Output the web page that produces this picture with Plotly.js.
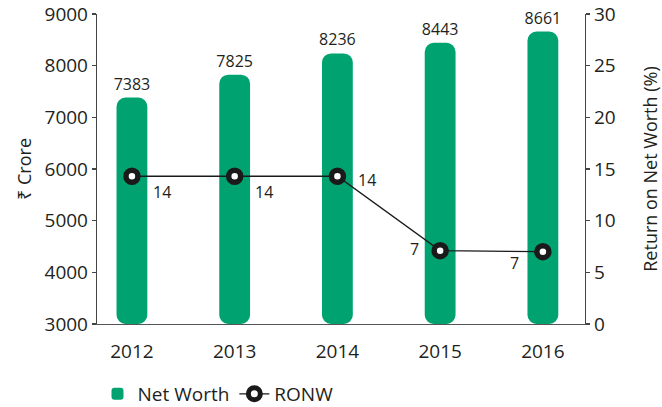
<!DOCTYPE html>
<html>
<head>
<meta charset="utf-8">
<script src="https://cdn.plot.ly/plotly-3.0.1.min.js"></script>
<style>html,body{margin:0;padding:0;background:#fff;}#chart{width:662px;height:407px;}</style>
</head>
<body>
<div id="chart"></div>
<script>
const years = ['2012', '2013', '2014', '2015', '2016'];
const netWorth = [7383, 7825, 8236, 8443, 8661];
const ronw = [14.3, 14.3, 14.3, 7.1, 7.0];
const ronwLabels = ['14', '14', '14', '7', '7'];
const axisFloor = 3000;

const GREEN = '#00A370';
const INK = '#231f20';
const FONT = '"Open Sans", "Noto Sans", "DejaVu Sans", sans-serif';

// label offsets (px) for the RONW data labels
const labelDx = [30, 29, 30, -26, -28];
const labelDy = [-16, -16, -4, 2, -11];

const traces = [
  {
    type: 'bar', name: 'Net Worth', x: years,
    base: netWorth.map(() => axisFloor), y: netWorth.map(v => v - axisFloor),
    width: 0.3, marker: {color: GREEN, line: {width: 0}},
    text: netWorth.map(String), textposition: 'outside', cliponaxis: false,
    constraintext: 'none',
    textfont: {family: FONT, size: 16, color: INK},
    hoverinfo: 'skip', showlegend: true
  },
  {
    type: 'scatter', mode: 'lines+markers', name: 'RONW', x: years, y: ronw,
    yaxis: 'y2',
    line: {color: '#1a1a1a', width: 1.3},
    marker: {size: 12, color: '#ffffff', line: {color: '#1a1a1a', width: 5.5}},
    cliponaxis: false
  }
];

const annotations = years.map((yr, i) => ({
  x: i, y: ronw[i], xref: 'x', yref: 'y2',
  text: ronwLabels[i], showarrow: false,
  xshift: labelDx[i], yshift: labelDy[i],
  font: {family: FONT, size: 16, color: INK}
}));

const layout = {
  width: 662, height: 407,
  margin: {l: 97, r: 77, t: 14, b: 83},
  paper_bgcolor: '#fff', plot_bgcolor: '#fff',
  font: {family: FONT, color: INK, size: 19},
  barmode: 'overlay',
  barcornerradius: 9,
  showlegend: true,
  annotations: annotations,
  legend: {
    orientation: 'h', x: 0.001, xanchor: 'left',
    yref: 'container', y: 0.032, yanchor: 'middle',
    font: {family: FONT, size: 19, color: INK}, itemwidth: 30,
    traceorder: 'normal'
  },
  xaxis: {
    type: 'category', range: [-0.34, 4.41],
    showline: true, linecolor: '#555', linewidth: 1.3,
    ticks: '', showgrid: false, zeroline: false,
    tickfont: {family: FONT, size: 19, color: INK},
    ticklabelstandoff: 10, fixedrange: true
  },
  yaxis: {
    range: [3000, 9000], dtick: 1000, tick0: 3000,
    showline: true, linecolor: '#444', linewidth: 1.2,
    ticks: 'outside', ticklen: 4, tickcolor: '#444', tickwidth: 1.2,
    showgrid: false, zeroline: false,
    tickfont: {family: FONT, size: 19, color: INK},
    title: {text: '₹ Crore', font: {family: FONT, size: 18, color: INK}, standoff: 8},
    automargin: false
  },
  yaxis2: {
    overlaying: 'y', side: 'right', range: [0, 30], dtick: 5,
    showline: true, linecolor: '#444', linewidth: 1.2,
    ticks: 'outside', ticklen: 4, tickcolor: '#444', tickwidth: 1.2,
    showgrid: false, zeroline: false,
    tickfont: {family: FONT, size: 19, color: INK},
    title: {text: 'Return on Net Worth (%)', font: {family: FONT, size: 18, color: INK}, standoff: 31},
    automargin: false
  }
};

Plotly.newPlot('chart', traces, layout, {staticPlot: true, displayModeBar: false});
</script>
</body>
</html>
